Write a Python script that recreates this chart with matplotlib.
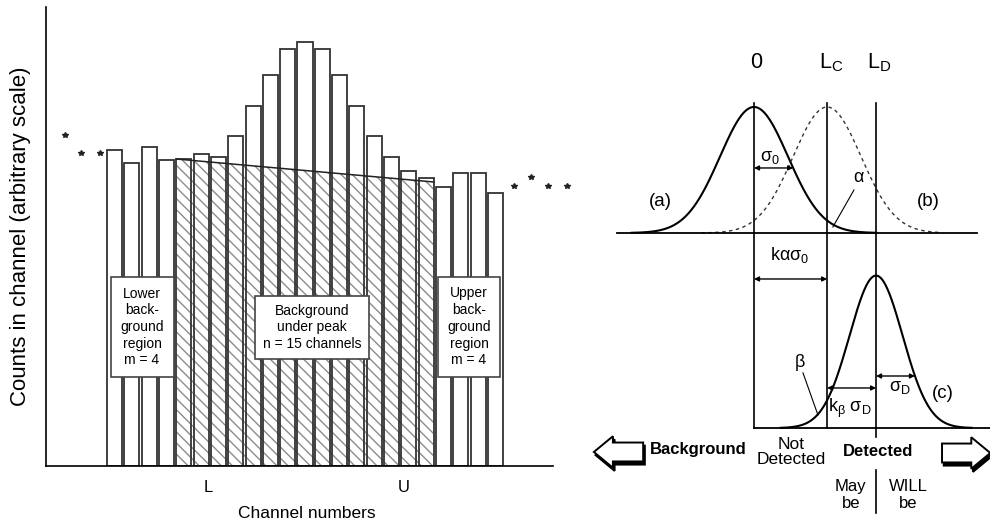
import numpy as np
import matplotlib
matplotlib.use('Agg')
import matplotlib.pyplot as plt
import matplotlib.patches as mpatches

plt.rcParams['font.family'] = ['Liberation Sans', 'DejaVu Sans']
plt.rcParams['mathtext.fontset'] = 'custom'
plt.rcParams['mathtext.rm'] = 'Liberation Sans'
plt.rcParams['mathtext.it'] = 'Liberation Sans'
plt.rcParams['mathtext.bf'] = 'Liberation Sans:bold'
plt.rcParams['hatch.linewidth'] = 1.0

# left panel: counts per channel (arbitrary scale)
channels = np.arange(1, 24)
counts = [316, 303, 319, 306, 307, 312, 309, 330, 360, 391, 417, 424,
          417, 391, 360, 330, 309, 295, 288, 279, 293, 293, 273]
m_low = 4
n_peak = 15
m_up = 4
bg_ends = [307, 284]          # background line at start / end of peak region
stars_left_x = [-1.86, -0.91, 0.16]
stars_left_y = [331, 313, 313]
stars_right_x = [24.06, 25.05, 26.03, 27.13]
stars_right_y = [280, 289, 280, 280]
tick_pos = [6.4, 17.7]
tick_lab = ['L', 'U']

# right panel: decision / detection limits, x in units of sigma_0
sigma0 = 1.0
k_alpha = 2.15
L_C = k_alpha * sigma0
L_D = 3.59
sigma_D = 0.78
k_beta = (L_D - L_C) / sigma_D
peak_c = 1.21
base_c = -1.548


def gauss(x, mu, s):
    return np.exp(-0.5 * ((x - mu) / s) ** 2)


fig = plt.figure(figsize=(9.9, 5.24), dpi=100)

# ---------------- left panel ----------------
ax = fig.add_axes([46 / 990, 58 / 524, 507 / 990, 459 / 524])
w = 0.87
lo = channels[m_low] - w / 2
hi = channels[m_low + n_peak - 1] + w / 2
ax.fill_between([lo, hi], 0, bg_ends, facecolor='white', edgecolor='#8c8c8c',
                hatch='\\\\\\', linewidth=0)
ax.bar(channels, counts, width=w, facecolor='none', edgecolor='#333333', linewidth=1.3)
ax.plot([lo, hi], bg_ends, color='#222222', lw=1.1)

ax.plot(stars_left_x, stars_left_y, ls='none', marker='*', ms=4, color='#222222', clip_on=False)
ax.plot(stars_right_x, stars_right_y, ls='none', marker='*', ms=4, color='#222222', clip_on=False)

box_kw = dict(boxstyle='square,pad=0.7', facecolor='white', edgecolor='#444444', linewidth=1.2)
ax.text(2.59, 139, 'Lower\nback-\nground\nregion\nm = %d' % m_low, ha='center', va='center',
        fontsize=10, linespacing=1.25, bbox=box_kw)
ax.text(12.4, 138.5, 'Background\nunder peak\nn = %d channels' % n_peak, ha='center', va='center',
        fontsize=10, linespacing=1.25, bbox=dict(box_kw, boxstyle='square,pad=0.55'))
ax.text(21.47, 139, 'Upper\nback-\nground\nregion\nm = %d' % m_up, ha='center', va='center',
        fontsize=10, linespacing=1.25, bbox=box_kw)

ax.set_xlim(-2.955, 26.32)
ax.set_ylim(0, 459)
ax.spines['top'].set_visible(False)
ax.spines['right'].set_visible(False)
ax.spines['left'].set_linewidth(1.2)
ax.spines['bottom'].set_linewidth(1.2)
ax.set_yticks([])
ax.set_xticks(tick_pos)
ax.set_xticklabels(tick_lab, fontsize=12)
ax.tick_params(axis='x', length=0, pad=10)
ax.set_xlabel('Channel numbers', fontsize=12.5)
ax.xaxis.set_label_coords(0.515, -0.088)
ax.set_ylabel('Counts in channel (arbitrary scale)', fontsize=16)
ax.yaxis.set_label_coords(-0.03, 0.5)

# ---------------- right panel ----------------
ax2 = fig.add_axes([580 / 990, 0, 410 / 990, 1])
ax2.set_xlim(-5.118, 6.941)
ax2.set_ylim(-2.3095, 1.849)
ax2.axis('off')

xa = np.linspace(-3.6, 3.6, 400)
ax2.plot(xa, gauss(xa, 0, sigma0), color='k', lw=1.5)
xb = np.linspace(L_C - 3.7, L_C + 3.3, 400)
ax2.plot(xb, gauss(xb, L_C, sigma0), color='#333333', lw=1.0, ls=(0, (2.5, 2.5)))
xc = np.linspace(L_D - 3.6 * sigma_D, L_D + 3.6 * sigma_D, 400)
ax2.plot(xc, base_c + peak_c * gauss(xc, L_D, sigma_D), color='k', lw=1.5)

ax2.plot([-4.03, 6.56], [0, 0], color='k', lw=1.3)
ax2.plot([0, 6.95], [base_c, base_c], color='k', lw=1.3, clip_on=False)
top = 1.032
for xv in [0, L_C]:
    ax2.plot([xv, xv], [top, base_c], color='k', lw=1.2)
ax2.plot([L_D, L_D], [top, -1.619], color='k', lw=1.2)
ax2.plot([L_D, L_D], [-1.881, -2.222], color='k', lw=1.2)


def dim(x0, x1, y):
    ax2.annotate('', xy=(x1, y), xytext=(x0, y),
                 arrowprops=dict(arrowstyle='<|-|>', color='k', lw=1.0,
                                 mutation_scale=7, shrinkA=0, shrinkB=0))


ya_arr = 0.516
dim(0, sigma0 * np.sqrt(-2 * np.log(ya_arr)), ya_arr)
dim(0, L_C, -0.365)
yc_arr = -1.135
dim(L_D, L_D + sigma_D * np.sqrt(-2 * np.log((yc_arr - base_c) / peak_c)), yc_arr)
dim(L_C, L_D, -1.23)

# leader lines for alpha / beta
ax2.plot([2.94, 2.32], [0.341, 0.048], color='k', lw=0.8)
ax2.plot([1.44, 1.88], [-1.11, -1.444], color='k', lw=0.8)

ax2.text(0.05, 1.35, '0', ha='center', va='center', fontsize=15.5)
ax2.text(L_C + 0.12, 1.35, r'L$_\mathregular{C}$', ha='center', va='center', fontsize=15.5)
ax2.text(L_D + 0.08, 1.35, r'L$_\mathregular{D}$', ha='center', va='center', fontsize=15.5)
ax2.text(0.47, 0.6, r'σ$_0$', ha='center', va='center', fontsize=13)
ax2.text(3.06, 0.44, r'α', ha='center', va='center', fontsize=13)
ax2.text(-2.74, 0.246, '(a)', ha='center', va='center', fontsize=13.5)
ax2.text(5.12, 0.246, '(b)', ha='center', va='center', fontsize=13.5)
ax2.text(1.06, -0.175, r'kασ$_0$', ha='center', va='center', fontsize=13)
ax2.text(1.35, -1.03, r'β', ha='center', va='center', fontsize=13)
ax2.text(4.29, -1.23, r'σ$_\mathregular{D}$', ha='center', va='center', fontsize=13)
ax2.text(2.82, -1.39, r'k$_\beta$ σ$_\mathregular{D}$', ha='center', va='center', fontsize=13)
ax2.text(5.56, -1.27, '(c)', ha='center', va='center', fontsize=13.5)

ax2.text(-1.65, -1.722, 'Background', ha='center', va='center', fontsize=12, fontweight='bold')
ax2.text(1.09, -1.738, 'Not\nDetected', ha='center', va='center', fontsize=12.5, linespacing=1.05)
ax2.text(3.65, -1.738, 'Detected', ha='center', va='center', fontsize=12, fontweight='bold')
ax2.text(2.85, -2.08, 'May\nbe', ha='center', va='center', fontsize=12, linespacing=1.1)
ax2.text(4.53, -2.08, 'WILL\nbe', ha='center', va='center', fontsize=12, linespacing=1.1)

# hollow arrows with a small shadow
for (x0, dx, yv) in [(-3.26, -1.45, -1.738), (5.53, 1.42, -1.746)]:
    for off, fc, z in [((0.05, -0.025), 'k', 2), ((0, 0), 'white', 3)]:
        arr = mpatches.FancyArrow(x0 + off[0], yv + off[1], dx, 0, width=0.15,
                                  head_width=0.25, head_length=0.56,
                                  length_includes_head=True, facecolor=fc,
                                  edgecolor='k', linewidth=1.4, zorder=z, clip_on=False)
        ax2.add_patch(arr)

fig.savefig('out.png', dpi=100)
